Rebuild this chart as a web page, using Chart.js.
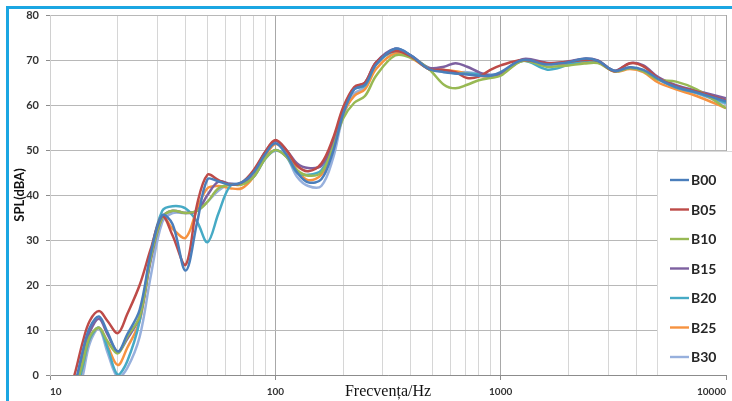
<!DOCTYPE html>
<html><head><meta charset="utf-8">
<script src="https://cdn.jsdelivr.net/npm/chart.js@4.4.1/dist/chart.umd.min.js"></script>
<style>
html,body{margin:0;padding:0;background:#fff;overflow:hidden;}
#wrap{position:relative;width:732px;height:401px;}
#frameTop{position:absolute;left:6px;top:6px;width:726px;height:3px;background:#1ba6e2;}
#frameLeft{position:absolute;left:6px;top:6px;width:3px;height:395px;background:#1ba6e2;}
canvas{position:absolute;left:0;top:0;}
</style></head><body>
<div id="wrap"><canvas id="c" width="732" height="401"></canvas><div id="frameTop"></div><div id="frameLeft"></div></div>
<script>
const freqs = [12, 13, 14, 15, 16.5, 18, 20, 22, 25, 28, 31.5, 35, 40, 45, 50, 56, 63, 71, 80, 90, 100,
  112, 125, 140, 160, 180, 200, 224, 250, 280, 340, 400, 480, 560, 630, 710, 800, 900, 1000,
  1250, 1600, 1800, 2000, 2350, 2700, 3200, 3750, 4300, 5000, 6000, 7400, 10000];

const seriesNames = ['B00', 'B05', 'B10', 'B15', 'B20', 'B25', 'B30'];
const seriesColors = ['#4a7ebb', '#be4b48', '#98b954', '#7d60a0', '#46aac5', '#f69240', '#97b0dd'];

const B00 = [-8, -1.5, 5.5, 10.5, 13, 9.5, 5.2, 9, 14.5, 27, 35.5, 33.5, 23.2, 34, 43.5, 43, 42.3, 42.8, 45, 49, 51.5,
  49, 45, 42.8, 43.5, 49.5, 58, 63.5, 64.5, 69, 72.5, 71, 68, 67.3, 67, 66.8, 66.5, 66.5, 67.3,
  70, 69, 69.2, 69.5, 70.3, 69.8, 67.6, 68.4, 67.8, 65.8, 64, 62.8, 60.8];
const B05 = [-5, 1, 7.5, 12, 14.2, 12, 9.3, 13.5, 20, 28, 35.3, 31, 24.5, 38, 44.5, 43.3, 42.3, 42.8, 45.5, 49.5, 52.2,
  50, 46.5, 45.3, 47, 52.5, 59.5, 64, 65, 69.5, 72, 70.8, 68, 67.8, 67.3, 66, 66.3, 67.8, 68.8,
  70, 69.3, 69.4, 69.6, 70, 69.8, 67.5, 69.3, 68.6, 66, 64.2, 63, 61];
const B10 = [-9, -3, 3, 8.5, 10.5, 7.5, 4.8, 8.5, 13, 26, 35, 36.5, 36, 36.5, 38.5, 41.5, 42.3, 42.3, 44, 48, 50,
  48.5, 45.5, 44.3, 45, 50.5, 57, 60.5, 62, 66.5, 71, 70.5, 68, 64.5, 63.7, 64.5, 65.5, 66, 66.5,
  69.8, 68.5, 68.6, 68.8, 69.2, 69.3, 67.5, 68.2, 67.5, 65.6, 65.2, 63.5, 59.3];
const B15 = [-8, -2, 4.5, 9.5, 12.5, 9, 5.2, 8, 13, 25.5, 35, 36.5, 36, 36.5, 40, 43, 42.5, 42.5, 45, 49.5, 52,
  50, 47, 46, 46.5, 51.5, 59, 63.8, 65, 69.5, 72.5, 71, 68.3, 68.5, 69.3, 68.5, 67.3, 66.5, 67,
  70.2, 69.4, 69.4, 69.7, 70.3, 69.9, 67.6, 69.3, 68.8, 66.2, 64.4, 63.2, 61.5];
const B20 = [-10, -4, 2, 8, 10.5, 6, 0, 3, 12, 27, 36.5, 37.5, 37, 34, 29.5, 36, 42, 42.5, 44, 48, 50,
  48.5, 45, 44.5, 45.5, 51, 58.5, 63.5, 64.3, 69, 72, 70.8, 68, 67.5, 67, 67, 66.8, 66.5, 67,
  69.8, 67.9, 68.2, 69, 69.8, 69.7, 67.5, 68.3, 67.6, 65.7, 63.9, 62.7, 60.5];
const B25 = [-10, -4, 2, 8, 10.5, 6.5, 2.2, 6, 12, 26, 35.3, 32.5, 30.5, 37, 41.5, 42, 41.5, 41.5, 44, 48.5, 51.3,
  49.5, 45.5, 43.3, 44.5, 50, 58, 62, 63.5, 68, 71.5, 70.5, 68, 67.8, 67.5, 67, 66.5, 66.3, 66.8,
  69.8, 69.2, 69.1, 69.2, 69.5, 69.6, 67.4, 68, 67.3, 65, 63.5, 62, 59.3];
const B30 = [-12, -6, 0, 7, 10.3, 5, -0.5, 1.5, 8.5, 22, 34, 36, 36, 36.5, 38.5, 41, 42.5, 42.5, 44, 48, 49.8,
  48.5, 44, 42, 42, 48, 57.5, 62.5, 64, 69, 72.5, 71, 68, 67.8, 67.3, 67.3, 67, 66.8, 67,
  70, 69.2, 69.3, 69.6, 70.2, 69.8, 67.6, 68.3, 67.7, 65.7, 63.8, 62.6, 60.2];

const seriesValues = [B00, B05, B10, B15, B20, B25, B30];

const yTicks = [0, 10, 20, 30, 40, 50, 60, 70, 80];
const xMajorTicks = [10, 100, 1000, 10000];
const xTickLabels = ['10', '100', '1000', '10000'];
const xTitle = 'Frecvența/Hz';
const yTitle = 'SPL(dBA)';

const xGridTicks = [];
xMajorTicks.forEach((m, i) => {
  if (i === xMajorTicks.length - 1) { xGridTicks.push(m); return; }
  for (let k = 1; k <= 9; k++) xGridTicks.push(m * k);
});
const isMajor = v => xMajorTicks.includes(v);

Chart.defaults.font.family = 'Lato';

const legendBox = {
  id: 'legendBox',
  afterDraw(chart) {
    const {ctx, chartArea: a} = chart;
    const left = a.right - 69, top = a.top + 136, bottom = a.bottom;
    ctx.save();
    ctx.fillStyle = '#fff';
    ctx.fillRect(left, top, chart.width - left, bottom - top);
    ctx.strokeStyle = '#d9d9d9';
    ctx.lineWidth = 1;
    ctx.beginPath();
    ctx.moveTo(left + 0.5, bottom);
    ctx.lineTo(left + 0.5, top + 0.5);
    ctx.lineTo(chart.width, top + 0.5);
    ctx.stroke();
    chart.data.datasets.forEach((ds, i) => {
      const y = top + 29 + i * 29.5;
      ctx.strokeStyle = ds.borderColor;
      ctx.lineWidth = 2.4;
      ctx.beginPath();
      ctx.moveTo(left + 13, y);
      ctx.lineTo(left + 32, y);
      ctx.stroke();
      ctx.fillStyle = '#262626';
      ctx.font = 'bold 14px Lato';
      ctx.textBaseline = 'middle';
      ctx.textAlign = 'left';
      ctx.fillText(ds.label, left + 34, y + 0.5);
    });
    ctx.restore();
  }
};

new Chart(document.getElementById('c'), {
  type: 'line',
  data: {
    datasets: seriesNames.map((name, i) => ({
      label: name,
      data: freqs.map((f, j) => ({x: f, y: seriesValues[i][j]})),
      borderColor: seriesColors[i],
      backgroundColor: seriesColors[i],
      borderWidth: 2.5,
      pointRadius: 0,
      tension: 0.35,
      fill: false
    }))
  },
  options: {
    responsive: false,
    devicePixelRatio: 1,
    animation: false,
    layout: {padding: {left: 0, right: 2, top: 15, bottom: 0}},
    plugins: {legend: {display: false}, tooltip: {enabled: false}},
    scales: {
      x: {
        type: 'logarithmic',
        min: 10, max: 10000,
        afterBuildTicks: s => { s.ticks = xGridTicks.map(v => ({value: v, major: isMajor(v)})); },
        afterFit: s => { s.height = 26; },
        ticks: {
          autoSkip: false, maxRotation: 0, align: 'inner', padding: 6,
          color: '#333', font: {size: 10, weight: 'bold'},
          callback: v => { const k = xMajorTicks.indexOf(v); return k >= 0 ? xTickLabels[k] : ''; }
        },
        grid: {
          color: c => (c.tick && isMajor(c.tick.value)) ? '#a8a8a8' : '#d6d6d6',
          lineWidth: 1,
          tickLength: 5,
          tickColor: c => (c.tick && isMajor(c.tick.value)) ? '#8c8c8c' : 'rgba(0,0,0,0)'
        },
        border: {display: true, color: '#8c8c8c', width: 1},
        title: {display: true, text: xTitle, color: '#111', font: {family: 'Liberation Serif', size: 16, weight: 'normal'}, padding: {top: 0, bottom: 0}}
      },
      y: {
        min: 0, max: 80,
        afterBuildTicks: s => { s.ticks = yTicks.map(v => ({value: v})); },
        afterFit: s => { s.width = 50; },
        ticks: {padding: 7, color: '#333', font: {size: 11, weight: 'bold'}},
        grid: {color: '#b8b8b8', lineWidth: 1, tickLength: 4, tickColor: '#8c8c8c'},
        border: {display: true, color: '#d0d0d0', width: 1},
        title: {display: true, text: yTitle, color: '#111', font: {size: 13, weight: 'bold'}, padding: {top: 12, bottom: 0}}
      }
    }
  },
  plugins: [legendBox]
});
</script>
</body></html>
